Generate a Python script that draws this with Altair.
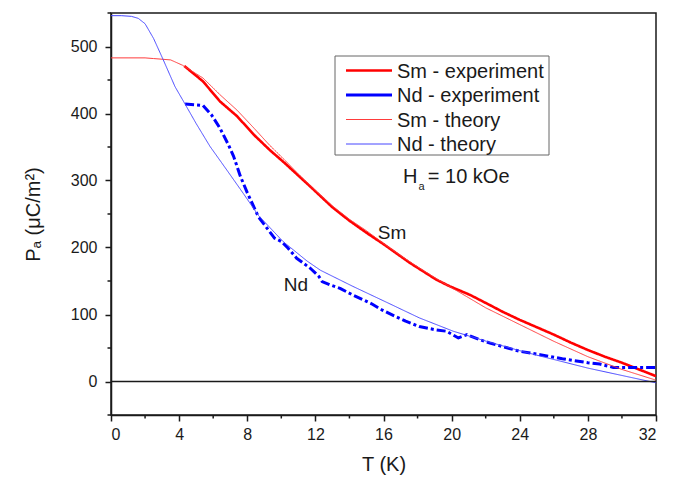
import altair as alt
import pandas as pd

# ---- data ----
sm_exp_T = [4.3, 5.4, 6.4, 7.4, 8.4, 9.3, 10.2, 11.7, 13.0, 14.0, 15.0, 16.0, 17.55, 19.1, 19.9,
            21.1, 22.25, 23.0, 24.0, 25.0, 26.0, 27.0, 28.0, 29.0, 30.0, 31.0, 32.0]
sm_exp_P = [471, 448, 418, 396, 368, 346, 326, 291, 260, 240, 222, 205, 177, 152, 142,
            129, 114, 104, 92, 81, 70, 58, 47, 37, 28, 18, 8]

nd_exp_T = [4.35, 5.4, 5.9, 6.4, 6.9, 7.2, 7.6, 8.0, 8.65, 9.6, 10.0, 10.4, 10.9, 11.7, 12.2, 12.4,
            12.9, 13.45, 14.2, 14.8, 15.3, 15.9, 16.7, 17.3, 18.1, 19.1, 19.7, 20.4, 20.9, 21.7,
            22.3, 24.0, 25.2, 26.5, 28.0, 28.7, 29.5, 30.5, 32.0]
nd_exp_P = [414, 412, 398, 378, 353, 336, 306, 282, 246, 214, 209, 199, 184, 169, 157, 149,
            144, 139, 129, 122, 116, 107, 97, 90, 82, 77, 75, 65, 70, 62,
            57, 45, 40, 34, 28, 26, 21, 21, 21]

sm_th_T = [0, 1, 2, 2.5, 3, 3.5, 4.2, 5.4, 6.4, 7.4, 8.4, 9.3, 10.3, 11.1, 12, 13, 14, 15, 16, 17,
           18, 19, 20, 22, 24, 26, 28, 30, 32]
sm_th_P = [483, 483, 483, 482, 481, 480, 472, 453, 428, 405, 378, 353, 328, 307, 285, 262, 242, 225,
           206, 188, 171, 155, 140, 110, 85, 60, 37, 18, 2]

nd_th_T = [0, 0.6, 1.2, 1.6, 2.0, 2.5, 3.07, 3.76, 4.35, 5.0, 5.81, 6.79, 7.76, 8.65, 10.1, 11.5,
           12.3, 14.2, 16.2, 18.1, 20.1, 22.05, 24, 25.2, 28, 30, 32]
nd_th_P = [546, 546, 545, 542, 534, 512, 480, 440, 414, 385, 351, 316, 281, 248, 209, 180,
           166, 142, 118, 95, 75, 60, 46, 38, 20, 9, -2]

series_names = ["Sm - experiment", "Nd - experiment", "Sm - theory", "Nd - theory"]
series_colors = ["#ff0000", "#0000ff", "#ff3b3b", "#4646ff"]
series_widths = [2.6, 3.0, 1.0, 1.0]

x_major = [0, 4, 8, 12, 16, 20, 24, 28, 32]
x_minor = [2, 6, 10, 14, 18, 22, 26, 30]
y_major = [0, 100, 200, 300, 400, 500]
y_minor = [-50, 50, 150, 250, 350, 450, 550]

curves = [(sm_exp_T, sm_exp_P), (nd_exp_T, nd_exp_P), (sm_th_T, sm_th_P), (nd_th_T, nd_th_P)]
frames = []
for name, col, w, (T, P) in zip(series_names, series_colors, series_widths, curves):
    frames.append(pd.DataFrame({"T": T, "P": P, "series": name, "col": col, "w": w,
                                "idx": range(len(T))}))
data = pd.concat(frames, ignore_index=True)

FONT = "Liberation Sans, Arial, DejaVu Sans, sans-serif"
INK = "#1a1a1a"
W, H = 545, 402

x_scale = alt.Scale(domain=[0, 32], nice=False, zero=False)
y_scale = alt.Scale(domain=[-50, 550], nice=False, zero=False)
x_axis = alt.Axis(title="T (K)", values=x_major, labelOverlap=False, tickSize=6,
                  labelPadding=5, titlePadding=12)
y_axis = alt.Axis(title="Pₐ (μC/m²)", values=y_major, labelOverlap=False, tickSize=6,
                  labelPadding=8, titlePadding=27)


def X():
    return alt.X("T:Q", scale=x_scale, axis=x_axis)


def Y():
    return alt.Y("P:Q", scale=y_scale, axis=y_axis)


lines = alt.Chart(data).mark_line(clip=True, strokeJoin="round", strokeCap="butt").encode(
    x=X(),
    y=Y(),
    order="idx:Q",
    detail="series:N",
    color=alt.Color("col:N", scale=None),
    strokeWidth=alt.StrokeWidth("w:Q", scale=None),
    strokeDash=alt.condition("datum.series === 'Nd - experiment'", alt.value([9, 3, 3, 3]), alt.value([1, 0])),
)

zero = alt.Chart(pd.DataFrame({"P": [0]})).mark_rule(color=INK, strokeWidth=1.5).encode(y=Y())

# minor ticks (outside the plot area)
xminor = alt.Chart(pd.DataFrame({"T": x_minor})).mark_rule(color=INK, strokeWidth=1.5).encode(
    x=X(), y=alt.value(H), y2=alt.value(H + 3.5))
yminor = alt.Chart(pd.DataFrame({"P": y_minor})).mark_rule(color=INK, strokeWidth=1.5).encode(
    y=Y(), x=alt.value(0), x2=alt.value(-3.5))

labels_df = pd.DataFrame({"T": [16.5, 10.86], "P": [222, 144], "txt": ["Sm", "Nd"]})
labels = alt.Chart(labels_df).mark_text(font=FONT, fontSize=19, color=INK, align="center",
                                        baseline="middle").encode(x=X(), y=Y(), text="txt:N")

ha_df = pd.DataFrame({"T": [17.15, 18.05, 18.6], "P": [305, 290, 305],
                      "txt": ["H", "a", "= 10 kOe"], "size": [20, 11, 20]})
ha = alt.Chart(ha_df).mark_text(font=FONT, color=INK, align="left", baseline="middle").encode(
    x=X(), y=Y(), text="txt:N", size=alt.Size("size:Q", scale=None, legend=None))

# ---- legend (drawn in pixel space of the plot area) ----
leg_box = alt.Chart(pd.DataFrame({"k": [0]})).mark_rect(fill="white", stroke="#666", strokeWidth=1).encode(
    x=alt.value(224), x2=alt.value(438), y=alt.value(43), y2=alt.value(142))
leg_layers = [leg_box]
row_y = [57.5, 82, 106.5, 131]
for name, col, w, py in zip(series_names, series_colors, series_widths, row_y):
    d = pd.DataFrame({"name": [name]})
    leg_layers.append(alt.Chart(d).mark_rule(color=col, strokeWidth=w).encode(
        x=alt.value(235), x2=alt.value(281), y=alt.value(py)))
    leg_layers.append(alt.Chart(d).mark_text(font=FONT, fontSize=20, color=INK, align="left",
                                             baseline="middle").encode(
        x=alt.value(286), y=alt.value(py + 1), text="name:N"))

chart = alt.layer(lines, zero, xminor, yminor, labels, ha, *leg_layers).properties(
    width=W, height=H,
    autosize=alt.AutoSizeParams(type="none"),
    padding={"left": 103, "top": 5, "right": 18, "bottom": 63},
    background="white",
).configure_view(stroke=INK, strokeWidth=1.5).configure_axis(
    grid=False, domainColor=INK, domainWidth=1.5, tickColor=INK, tickWidth=1.5,
    labelFont=FONT, labelFontSize=16, labelColor=INK,
    titleFont=FONT, titleFontSize=20, titleFontWeight="normal", titleColor=INK,
)

chart.save("out.html", embed_options={"renderer": "svg", "actions": False})
